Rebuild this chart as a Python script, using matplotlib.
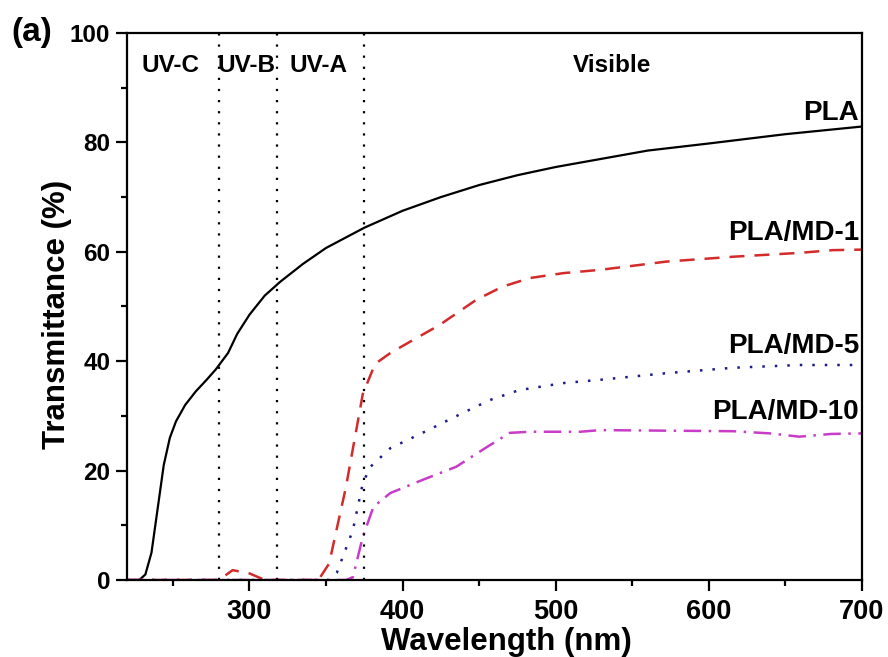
import numpy as np
import matplotlib
matplotlib.use("Agg")
import matplotlib.pyplot as plt
from matplotlib.ticker import MultipleLocator

plt.rcParams['font.family'] = ['Liberation Sans', 'DejaVu Sans']
plt.rcParams['font.weight'] = 'bold'

# PLA (solid black)
pla_wl = [220, 228, 232, 236, 240, 244, 248, 252, 258, 265, 272, 278, 282, 286, 292, 300,
          310, 320, 335, 350, 375, 400, 425, 450, 475, 500, 530, 560, 600, 650, 700]
pla_t = [0, 0, 1, 5, 13, 21, 26, 29, 32, 34.5, 36.6, 38.5, 40, 41.5, 45, 48.5,
         52, 54.5, 57.8, 60.7, 64.4, 67.5, 70, 72.2, 74, 75.5, 77, 78.5, 79.8, 81.5, 82.9]

# PLA/MD-1 (red dashed)
md1_wl = [220, 280, 289, 300, 310, 345, 352, 363, 374, 382, 392, 407, 424, 448, 465, 483,
          505, 529, 572, 616, 659, 681, 700]
md1_t = [0, 0, 1.8, 1.2, 0, 0, 3, 17, 34, 39.5, 41.5, 43.9, 46.6, 51.2, 53.6, 55.2,
         56.1, 56.7, 58.2, 59.1, 59.8, 60.3, 60.4]

# PLA/MD-5 (blue dotted)
md5_wl = [220, 352, 357, 367.5, 374, 379, 392, 413, 439, 457, 476, 505, 529, 572, 616, 659, 700]
md5_t = [0, 0, 1.3, 9.1, 17.7, 20.7, 24.1, 26.9, 30.5, 32.9, 34.7, 36, 36.6, 37.8, 38.8, 39.3, 39.3]

# PLA/MD-10 (magenta dash-dot)
md10_wl = [220, 363, 367.5, 374, 381, 392, 413, 435, 455, 470, 483, 516, 529, 616, 640, 659, 680, 700]
md10_t = [0, 0, 0.5, 7.9, 13.4, 15.9, 18.3, 20.7, 24.3, 26.9, 27.1, 27.1, 27.4, 27.2, 26.8, 26.2, 26.7, 26.8]

band_edges = [280, 318, 375]
band_labels = ["UV-C", "UV-B", "UV-A", "Visible"]
band_label_x = [248.5, 298, 345, 537]

curve_labels = ["PLA", "PLA/MD-1", "PLA/MD-5", "PLA/MD-10"]
curve_label_y = [85.4, 63.4, 42.8, 30.7]

fig = plt.figure(figsize=(8.88, 6.57), dpi=100)
ax = fig.add_axes([0.143, 0.1172, 0.8277, 0.8326])

ax.plot(pla_wl, pla_t, color="black", lw=1.6, linestyle="-")
ax.plot(md1_wl, md1_t, color="#d42a2a", lw=1.8, linestyle=(0, (6, 4)))
ax.plot(md5_wl, md5_t, color="#1c1c8a", lw=1.8, linestyle=(0, (1, 4)))
ax.plot(md10_wl, md10_t, color="#c83cc8", lw=1.8, linestyle=(0, (7, 3, 1, 3)))

for e in band_edges:
    ax.axvline(e, color="black", lw=1.6, linestyle=(0, (1, 4)))

for lab, xx in zip(band_labels, band_label_x):
    ax.text(xx, 94.1, lab, ha="center", va="center", fontsize=17.5, fontweight="bold")

for lab, yy in zip(curve_labels, curve_label_y):
    ax.text(698, yy, lab, ha="right", va="center", fontsize=20, fontweight="bold")

ax.set_xlim(220, 700)
ax.set_ylim(0, 100)
ax.xaxis.set_major_locator(MultipleLocator(100))
ax.xaxis.set_minor_locator(MultipleLocator(50))
ax.yaxis.set_major_locator(MultipleLocator(20))
ax.yaxis.set_minor_locator(MultipleLocator(10))
ax.tick_params(which="major", length=8, width=1.6, direction="out")
ax.tick_params(which="minor", length=4.5, width=1.6, direction="out")
ax.tick_params(axis="x", labelsize=19.5, pad=6)
ax.tick_params(axis="y", labelsize=17.5, pad=4)
for lbl in ax.get_xticklabels() + ax.get_yticklabels():
    lbl.set_fontweight("bold")
for s in ax.spines.values():
    s.set_linewidth(1.6)

ax.set_xlabel("Wavelength (nm)", fontsize=22.5, fontweight="bold")
ax.xaxis.set_label_coords(0.516, -0.086)
ax.set_ylabel("Transmittance (%)", fontsize=22.5, fontweight="bold")
ax.yaxis.set_label_coords(-0.075, 0.486)

fig.text(0.013, 0.95, "(a)", fontsize=24, fontweight="bold", ha="left", va="center")

fig.savefig("out.png", dpi=100)
